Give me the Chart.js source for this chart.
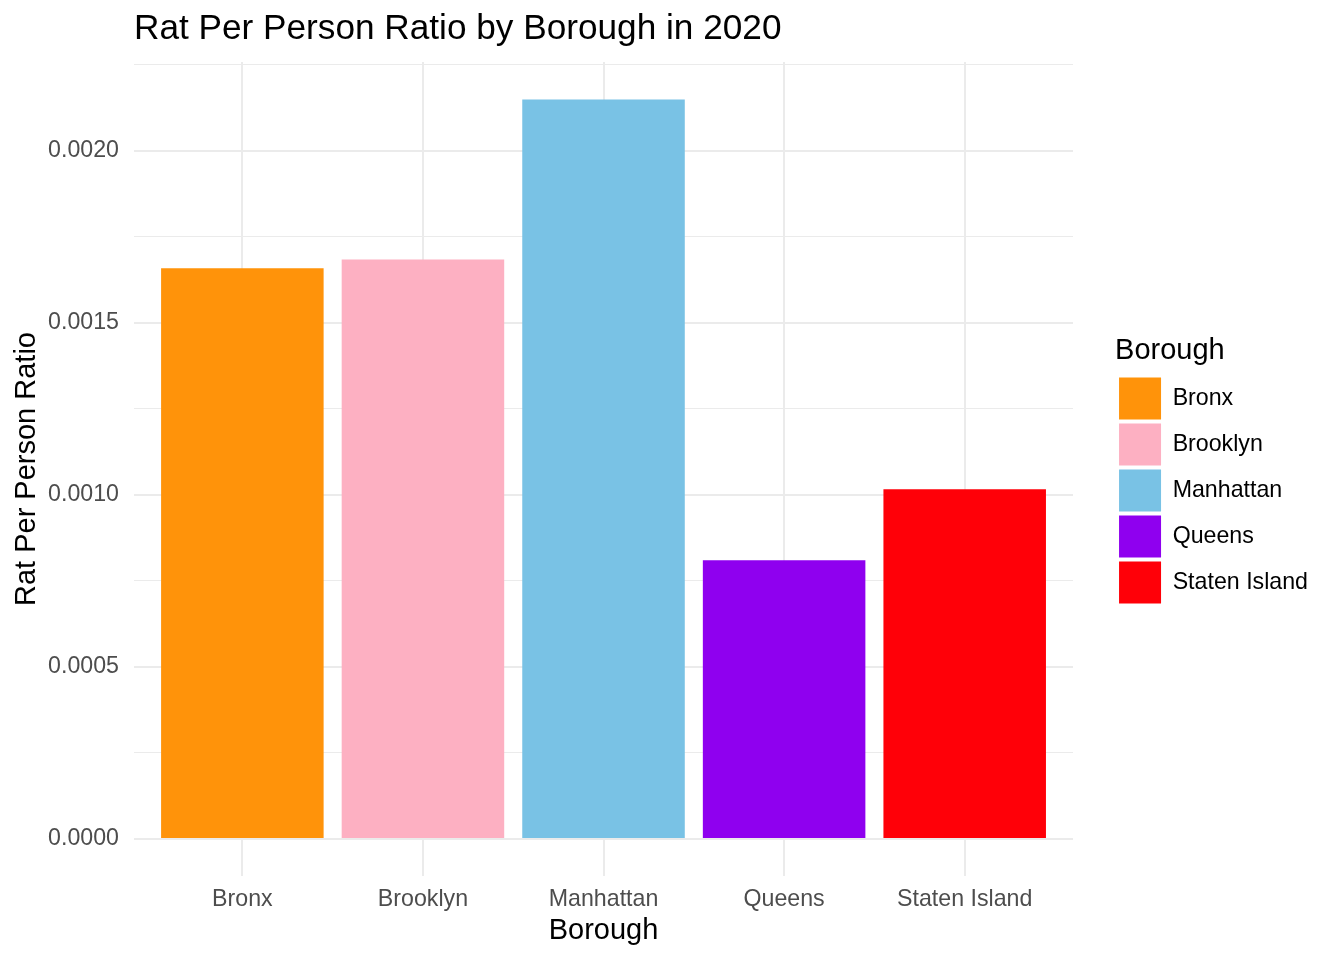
<!DOCTYPE html>
<html>
<head>
<meta charset="utf-8">
<script src="https://cdn.jsdelivr.net/npm/chart.js@4/dist/chart.umd.min.js"></script>
<style>
  html, body { margin: 0; padding: 0; background: #ffffff; }
  #wrap { width: 1344px; height: 960px; }
</style>
</head>
<body>
<div id="wrap"><canvas id="c" width="1344" height="960"></canvas></div>
<script>
const boroughs = ["Bronx", "Brooklyn", "Manhattan", "Queens", "Staten Island"];
const ratios = [0.001658, 0.001684, 0.002149, 0.000810, 0.001016];
const barColors = ["#FF930A", "#FDB0C2", "#79C2E5", "#8F00EF", "#FF0008"];
const yTicks = [0, 0.00025, 0.0005, 0.00075, 0.001, 0.00125, 0.0015, 0.00175, 0.002, 0.00225];
const yMajor = [0, 0.0005, 0.001, 0.0015, 0.002];

const FONT = "'Liberation Sans', Arial, Helvetica, sans-serif";
const isMajor = v => yMajor.some(m => Math.abs(m - v) < 1e-9);

new Chart(document.getElementById('c'), {
  type: 'bar',
  data: {
    datasets: [{
      label: 'Borough',
      data: ratios.map((v, i) => ({ x: i, y: v })),
      backgroundColor: barColors,
      borderWidth: 0,
      barPercentage: 0.9,
      categoryPercentage: 1.0
    }]
  },
  options: {
    responsive: false,
    animation: false,
    devicePixelRatio: 1,
    layout: { padding: { top: 0, left: 0, right: 26, bottom: 0 } },
    plugins: {
      tooltip: { enabled: false },
      title: {
        display: true,
        text: 'Rat Per Person Ratio by Borough in 2020',
        align: 'start',
        fullSize: false,
        color: '#000000',
        font: { family: FONT, size: 35.2, weight: 'normal' },
        padding: { top: 8.3, bottom: 11.5 }
      },
      legend: {
        display: true,
        position: 'right',
        align: 'center',
        fullSize: false,
        title: {
          display: true,
          position: 'start',
          text: 'Borough',
          color: '#000000',
          font: { family: FONT, size: 29, weight: 'normal' },
          padding: { top: 6, bottom: 2 }
        },
        labels: {
          boxWidth: 42,
          boxHeight: 42,
          padding: 4,
          color: '#000000',
          font: { family: FONT, size: 23.2 },
          generateLabels: () => boroughs.map((b, i) => ({
            text: b,
            fillStyle: barColors[i],
            strokeStyle: 'rgba(0,0,0,0)',
            lineWidth: 0,
            hidden: false,
            index: i,
            datasetIndex: 0
          }))
        }
      }
    },
    scales: {
      x: {
        type: 'linear',
        min: -0.6,
        max: 4.6,
        offset: false,
        afterBuildTicks: s => { s.ticks = boroughs.map((b, i) => ({ value: i })); },
        afterFit: s => { s.height = 84; },
        ticks: {
          color: '#4D4D4D',
          font: { family: FONT, size: 23.2 },
          padding: 10,
          maxRotation: 0,
          autoSkip: false,
          callback: v => boroughs[v]
        },
        grid: { color: '#EBEBEB', lineWidth: 2, drawTicks: false, offset: false },
        border: { display: false },
        title: {
          display: true,
          text: 'Borough',
          color: '#000000',
          font: { family: FONT, size: 29 },
          padding: { top: 0, bottom: 11.5 }
        }
      },
      y: {
        type: 'linear',
        min: -0.0001075,
        max: 0.0022575,
        afterBuildTicks: s => { s.ticks = yTicks.map(v => ({ value: v })); },
        afterFit: s => { s.width = 134; },
        ticks: {
          color: '#4D4D4D',
          font: { family: FONT, size: 23.2 },
          padding: 15,
          autoSkip: false,
          callback: v => isMajor(v) ? v.toFixed(4) : ''
        },
        grid: {
          color: '#EBEBEB',
          lineWidth: c => (c.tick && isMajor(c.tick.value)) ? 2 : 1,
          drawTicks: false
        },
        border: { display: false },
        title: {
          display: true,
          text: 'Rat Per Person Ratio',
          color: '#000000',
          font: { family: FONT, size: 29 },
          padding: { top: 10, bottom: 0 }
        }
      },
      gap: {
        type: 'linear',
        position: 'right',
        display: true,
        afterFit: s => { s.width = 42; },
        ticks: { display: false },
        grid: { display: false, drawTicks: false },
        border: { display: false }
      }
    }
  }
});
</script>
</body>
</html>
